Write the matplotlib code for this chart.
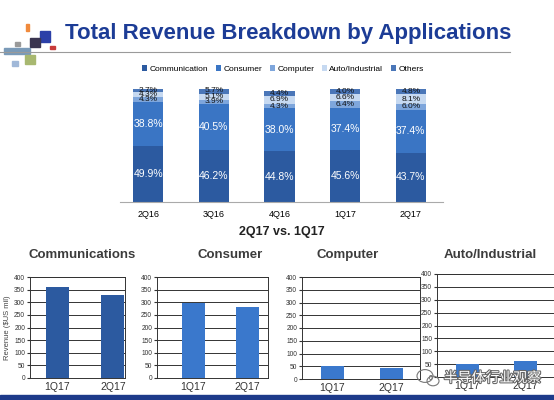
import matplotlib
matplotlib.use("Agg")
from matplotlib import pyplot as plt
from matplotlib.patches import Rectangle, Ellipse
import matplotlib.patheffects as pe
import numpy as np

# stacked share data (percent)
quarters = ["2Q16", "3Q16", "4Q16", "1Q17", "2Q17"]
segments = ["Communication", "Consumer", "Computer", "Auto/Industrial", "Others"]
communication = [49.9, 46.2, 44.8, 45.6, 43.7]
consumer = [38.8, 40.5, 38.0, 37.4, 37.4]
computer = [4.3, 3.9, 4.3, 6.4, 6.0]
auto_industrial = [4.3, 5.1, 6.9, 6.6, 8.1]
others = [2.7, 5.7, 4.4, 4.0, 4.8]

# revenue comparison (US$ mil)
periods = ["1Q17", "2Q17"]
panel_titles = ["Communications", "Consumer", "Computer", "Auto/Industrial"]
rev_communications = [360, 328]
rev_consumer = [298, 280]
rev_computer = [50, 45]
rev_auto = [52, 62]

W, H = 554, 400
seg_colors = ["#2c5aa0", "#3a75c4", "#7ea6dc", "#c6d9f1", "#4a76b8"]
plt.rcParams['font.family'] = ['Liberation Sans', 'DejaVu Sans']


def px_axes(fig, x0, y0, x1, y1):
    # pixel box (top-left origin) -> axes
    return fig.add_axes([x0 / W, 1 - y1 / H, (x1 - x0) / W, (y1 - y0) / H])


fig = plt.figure(figsize=(W / 100, H / 100), dpi=100)

# title + rule
fig.text(65 / W, 1 - 33 / H, "Total Revenue Breakdown by Applications", fontsize=16,
         fontweight="bold", color="#1c3c96", va="center", ha="left")
fig.add_artist(plt.Line2D([0, 510 / W], [1 - 52 / H, 1 - 52 / H], color="#9a9a9a", lw=0.8))

# little logo blocks at top-left
logo = [(40, 31, 10, 11, "#2b3fa8"), (26, 24, 3, 7, "#f08a3c"), (30, 38, 10, 9, "#3a3550"),
        (50, 46, 5, 3, "#c83a3a"), (15, 42, 5, 4, "#9a9a9a"), (4, 48, 26, 6, "#7a9ab8"),
        (25, 55, 10, 9, "#a8b870"), (12, 61, 6, 5, "#a0b8d8")]
for x, y, w, h, c in logo:
    fig.add_artist(Rectangle((x / W, 1 - (y + h) / H), w / W, h / H, color=c,
                             transform=fig.transFigure))

# stacked bar chart
ax = px_axes(fig, 120, 89, 443, 202)
x = np.arange(len(quarters))
series = [communication, consumer, computer, auto_industrial, others]
bottom = np.zeros(len(quarters))
for name, vals, col in zip(segments, series, seg_colors):
    vals = np.array(vals)
    ax.bar(x, vals, 0.46, bottom=bottom, color=col, label=name)
    for xi, b, v in zip(x, bottom, vals):
        big = v > 20
        ax.text(xi, b + v / 2, f"{v:.1f}%", ha="center", va="center",
                fontsize=7.5 if big else 6, color="white" if big else "#111111")
    bottom += vals
ax.set_xlim(-0.43, 4.49)
ax.set_ylim(0, 100)
ax.set_xticks(x, quarters)
ax.tick_params(axis="x", length=0, labelsize=6.5, pad=6)
ax.set_yticks([])
for s in ["top", "right", "left"]:
    ax.spines[s].set_visible(False)
ax.spines["bottom"].set_color("#aaaaaa")
fig.legend(*ax.get_legend_handles_labels(), loc="center", bbox_to_anchor=(283 / W, 1 - 69 / H),
           ncol=5, frameon=False, fontsize=6, handlelength=0.6, handleheight=0.6,
           handletextpad=0.3, columnspacing=0.9)

fig.text(282 / W, 1 - 232 / H, "2Q17 vs. 1Q17", fontsize=9, fontweight="bold",
         color="#222222", ha="center", va="center")

# small comparison panels
panels = [
    (rev_communications, "#2c5aa0", (30, 277, 125, 378), (57, 113), 82),
    (rev_consumer, "#3a78cc", (157, 277, 268, 378), (193, 247), 230),
    (rev_computer, "#3a78cc", (302, 277, 420, 379), (332, 391), 348),
    (rev_auto, "#3a78cc", (437, 274, 560, 377), (467, 525), 490),
]
for (vals, col, box, centers, tx), title in zip(panels, panel_titles):
    x0, y0, x1, y1 = box
    pax = px_axes(fig, x0, y0, x1, y1)
    # convert pixel centres to data coordinates (1 unit = 1 pixel)
    xs = [c - x0 for c in centers]
    pax.bar(xs, vals, 23, color=col, zorder=3)
    pax.set_xlim(0, x1 - x0)
    pax.set_ylim(0, 400)
    pax.set_yticks(np.arange(0, 401, 50))
    pax.set_xticks(xs, periods)
    pax.grid(axis="y", color="#333333", lw=0.7, zorder=0)
    pax.tick_params(axis="y", labelsize=4.8, length=2, pad=1.5, colors="#333333")
    pax.tick_params(axis="x", labelsize=7.5, length=0, pad=3, colors="#333333")
    for s in pax.spines.values():
        s.set_color("#333333")
        s.set_linewidth(0.7)
    fig.text(tx / W, 1 - 255 / H, title, fontsize=9.5, fontweight="bold", color="#3c3c3c",
             ha="center", va="center")
    if title == "Communications":
        pax.set_ylabel("Revenue ($US mil)", fontsize=5.5, color="#444444", labelpad=2)

# bottom band + watermark
fig.add_artist(Rectangle((0, 0), 1, 5 / H, color="#1d3a8a", transform=fig.transFigure))
for cx, cy, r in [(425, 376, 8), (433, 381, 6)]:
    fig.add_artist(Ellipse((cx / W, 1 - cy / H), 2 * r / W, 1.6 * r / H, fill=False,
                           ec="#777777", lw=0.8, transform=fig.transFigure))
fig.text(541 / W, 1 - 378 / H, "半导体行业观察", fontsize=10, color="white", ha="right", va="center",
         family=["Noto Sans CJK SC", "DejaVu Sans"],
         path_effects=[pe.withStroke(linewidth=1.5, foreground="#666666")])

fig.savefig("out.png", dpi=100)
